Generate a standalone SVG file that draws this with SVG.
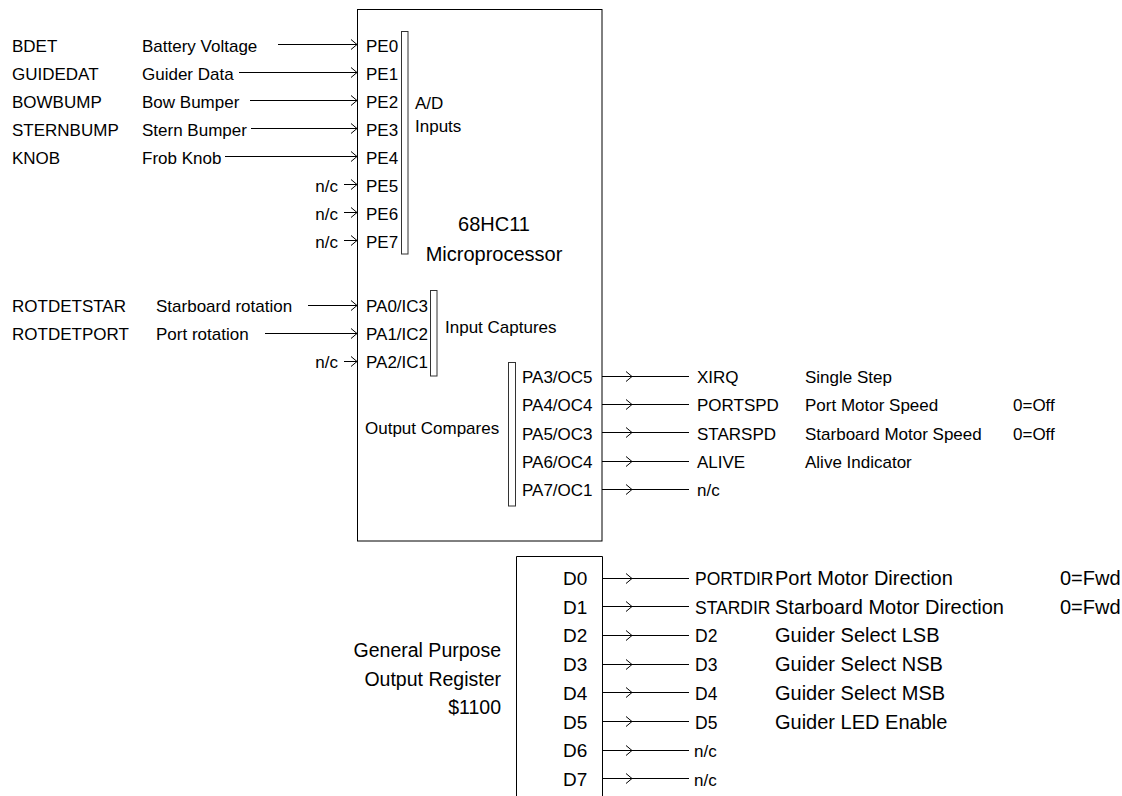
<svg xmlns="http://www.w3.org/2000/svg" width="1122" height="796" viewBox="0 0 1122 796">
<style>
text{font-family:"Liberation Sans",Arial,sans-serif;fill:#000}
.t{font-size:17px}
.c{font-size:20px;text-anchor:middle}
.d{font-size:19px}
.g{font-size:19.5px;text-anchor:end}
.s{font-size:17.5px}
.n{font-size:17px}
.x{font-size:20px}
.e{text-anchor:end}
.box{fill:#fff;stroke:#000;stroke-width:1}
.bar{fill:#fff;stroke:#333;stroke-width:1}
.w{fill:none;stroke:#000;stroke-width:1}
.a{fill:none;stroke:#000;stroke-width:1;marker-end:url(#chev)}
.m{fill:none;stroke:#000;stroke-width:1;marker-mid:url(#chev)}
</style>
<defs>
<marker id="chev" markerUnits="userSpaceOnUse" markerWidth="8" markerHeight="12" refX="6" refY="5" orient="auto" overflow="visible">
<path d="M0,0 L6,5 L0,10" fill="none" stroke="#000" stroke-width="1"/>
</marker>
</defs>
<rect width="1122" height="796" fill="#fff"/>

<g id="mcu">
<rect class="box" x="357.5" y="9.5" width="244.5" height="531.5"/>
<rect class="bar" x="401.5" y="31.5" width="6.5" height="222.5"/>
<rect class="bar" x="430.5" y="290.5" width="6.5" height="85.5"/>
<rect class="bar" x="508.5" y="362.5" width="7" height="143.5"/>
<text class="c" x="494" y="231">68HC11</text>
<text class="c" x="494" y="261">Microprocessor</text>
<text class="t" x="415" y="109">A/D</text>
<text class="t" x="415" y="132">Inputs</text>
<text class="t" x="445" y="333">Input Captures</text>
<text class="t" x="365" y="434">Output Compares</text>
<text class="t" x="366" y="52">PE0</text>
<text class="t" x="366" y="80">PE1</text>
<text class="t" x="366" y="108">PE2</text>
<text class="t" x="366" y="136">PE3</text>
<text class="t" x="366" y="164">PE4</text>
<text class="t" x="366" y="192">PE5</text>
<text class="t" x="366" y="220">PE6</text>
<text class="t" x="366" y="248">PE7</text>
<text class="t" x="366" y="312">PA0/IC3</text>
<text class="t" x="366" y="340">PA1/IC2</text>
<text class="t" x="366" y="368">PA2/IC1</text>
<text class="t" x="522" y="383">PA3/OC5</text>
<text class="t" x="522" y="411">PA4/OC4</text>
<text class="t" x="522" y="440">PA5/OC3</text>
<text class="t" x="522" y="468">PA6/OC4</text>
<text class="t" x="522" y="496">PA7/OC1</text>
</g>

<g id="gpreg">
<path class="w" d="M516.5,800 V556.5 H602.5 V800"/>
<text class="d" x="563" y="585">D0</text>
<text class="d" x="563" y="614">D1</text>
<text class="d" x="563" y="642">D2</text>
<text class="d" x="563" y="671">D3</text>
<text class="d" x="563" y="700">D4</text>
<text class="d" x="563" y="729">D5</text>
<text class="d" x="563" y="757">D6</text>
<text class="d" x="563" y="786">D7</text>
<text class="g" x="501" y="657">General Purpose</text>
<text class="g" x="501" y="686">Output Register</text>
<text class="g" x="501" y="714">$1100</text>
</g>

<g id="inputs-pe">
<text class="t" x="12" y="52">BDET</text><text class="t" x="142" y="52">Battery Voltage</text>
<text class="t" x="12" y="80">GUIDEDAT</text><text class="t" x="142" y="80">Guider Data</text>
<text class="t" x="12" y="108">BOWBUMP</text><text class="t" x="142" y="108">Bow Bumper</text>
<text class="t" x="12" y="136">STERNBUMP</text><text class="t" x="142" y="136">Stern Bumper</text>
<text class="t" x="12" y="164">KNOB</text><text class="t" x="142" y="164">Frob Knob</text>
<text class="t e" x="338" y="192">n/c</text>
<text class="t e" x="338" y="220">n/c</text>
<text class="t e" x="338" y="248">n/c</text>
</g>

<g id="inputs-pa">
<text class="t" x="12" y="312">ROTDETSTAR</text><text class="t" x="156" y="312">Starboard rotation</text>
<text class="t" x="12" y="340">ROTDETPORT</text><text class="t" x="156" y="340">Port rotation</text>
<text class="t e" x="338" y="368">n/c</text>
</g>

<g id="outputs-pa">
<text class="t" x="697" y="383">XIRQ</text><text class="t" x="805" y="383">Single Step</text>
<text class="t" x="697" y="411">PORTSPD</text><text class="t" x="805" y="411">Port Motor Speed</text><text class="t" x="1013" y="411">0=Off</text>
<text class="t" x="697" y="440">STARSPD</text><text class="t" x="805" y="440">Starboard Motor Speed</text><text class="t" x="1013" y="440">0=Off</text>
<text class="t" x="697" y="468">ALIVE</text><text class="t" x="805" y="468">Alive Indicator</text>
<text class="t" x="697" y="496">n/c</text>
</g>

<g id="outputs-d">
<text class="s" x="695" y="585">PORTDIR</text><text class="x" x="775" y="585">Port Motor Direction</text><text class="x" x="1060" y="585">0=Fwd</text>
<text class="s" x="695" y="614">STARDIR</text><text class="x" x="775" y="614">Starboard Motor Direction</text><text class="x" x="1060" y="614">0=Fwd</text>
<text class="s" x="695" y="642">D2</text><text class="x" x="775" y="642">Guider Select LSB</text>
<text class="s" x="695" y="671">D3</text><text class="x" x="775" y="671">Guider Select NSB</text>
<text class="s" x="695" y="700">D4</text><text class="x" x="775" y="700">Guider Select MSB</text>
<text class="s" x="695" y="729">D5</text><text class="x" x="775" y="729">Guider LED Enable</text>
<text class="n" x="694" y="757">n/c</text>
<text class="n" x="694" y="786">n/c</text>
</g>

<g id="connectors">
<path class="a" d="M278,44.5 H357"/>
<path class="a" d="M239,72.5 H357"/>
<path class="a" d="M250,100.5 H357"/>
<path class="a" d="M251,128.5 H357"/>
<path class="a" d="M225,156.5 H357"/>
<path class="a" d="M344,184.5 H357"/>
<path class="a" d="M344,212.5 H357"/>
<path class="a" d="M344,240.5 H357"/>
<path class="a" d="M308,305.5 H357"/>
<path class="a" d="M265,333.5 H357"/>
<path class="a" d="M344,361.5 H357"/>
<path class="m" d="M602,376.5 H632 H689"/>
<path class="m" d="M602,404.5 H632 H689"/>
<path class="m" d="M602,432.5 H632 H689"/>
<path class="m" d="M602,461.5 H632 H689"/>
<path class="m" d="M602,489.5 H632 H689"/>
<path class="m" d="M602,578.5 H632 H689"/>
<path class="m" d="M602,606.5 H632 H689"/>
<path class="m" d="M602,635.5 H632 H689"/>
<path class="m" d="M602,664.5 H632 H689"/>
<path class="m" d="M602,692.5 H632 H689"/>
<path class="m" d="M602,721.5 H632 H689"/>
<path class="m" d="M602,750.5 H632 H689"/>
<path class="m" d="M602,778.5 H632 H689"/>
</g>
</svg>
